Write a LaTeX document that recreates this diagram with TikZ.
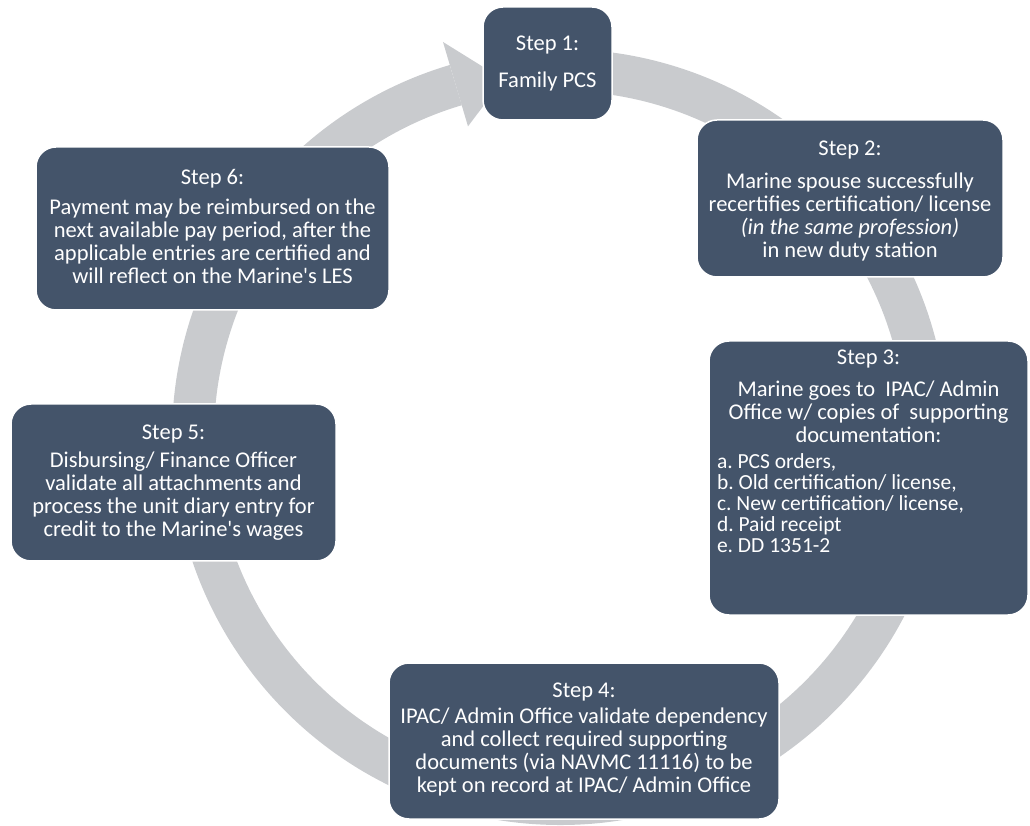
\documentclass[tikz,border=0pt]{standalone}
\usepackage{fontspec}
\setmainfont{Carlito}
\usepackage{tikz}
\definecolor{stepblue}{RGB}{68,84,106}
\definecolor{ringgrey}{RGB}{201,203,206}
\frenchspacing

\begin{document}
\begin{tikzpicture}[
            x = 1pt, % one unit per pixel
            y = 1pt,
            semithick % line style
        ]

        \tikzstyle{stepbox}=[
            rectangle,
            rounded corners = 20pt,
            draw = white,
            line width = 1.5pt,
            fill = stepblue,
            text = white,
            inner sep = 0pt,
            align = center,
            font = \fontsize{22.5}{23}\selectfont
        ]

        \tikzstyle{ring}=[
            draw = ringgrey,
            line width = 42pt
        ]

        \useasboundingbox (0,0) rectangle (1030,825);

	% cycle arrow
        \coordinate (C) at (560,388);
        \draw[ring] ([shift={(86:367pt)}]C) arc[start angle=86, end angle=-253.5, radius=367pt];
        \fill[ringgrey] ([shift={(106.5:412pt)}]C) -- ([shift={(99:362pt)}]C) -- ([shift={(106.5:324pt)}]C) -- cycle;

	% steps
        \node[stepbox, minimum width=129pt, minimum height=113pt] (S1) at (547.5,761.5)
            {Step 1:\\[14pt] Family PCS};

        \node[stepbox, minimum width=306pt, minimum height=157pt] (S2) at (850,626.5)
            {\\[-4pt] Step 2:\\[10pt] Marine spouse successfully\\ recertifies certification/ license\\
             \textit{(in the same profession)}\\ in new duty station};

        \node[stepbox, minimum width=319pt, minimum height=274pt] (S3) at (868.5,347)
            {Step 3:\\[9pt] Marine goes to\ \ IPAC/ Admin\\ Office w/ copies of\ \ supporting\\ documentation:\\[3pt]
             \makebox[303pt][l]{\fontsize{21.5}{21}\selectfont\begin{tabular}[t]{@{}l@{}}
                a. PCS orders,\\ b. Old certification/ license,\\ c. New certification/ license,\\
                d. Paid receipt\\ e. DD 1351-2\end{tabular}}\\[46pt]};

        \node[stepbox, minimum width=390pt, minimum height=156pt] (S4) at (584,84)
            {Step 4:\\[3pt] IPAC/ Admin Office validate dependency\\ and collect required supporting\\
             documents (via NAVMC 11116) to be\\ kept on record at IPAC/ Admin Office\\[-17pt]};

        \node[stepbox, minimum width=325pt, minimum height=157pt] (S5) at (173.5,342.5)
            {Step 5:\\[5pt] Disbursing/ Finance Officer\\ validate all attachments and\\
             process the unit diary entry for\\ credit to the Marine\textquotesingle s wages};

        \node[stepbox, minimum width=353pt, minimum height=163pt] (S6) at (212.5,596.5)
            {Step 6:\\[7pt] Payment may be reimbursed on the\\ next available pay period, after the\\
             applicable entries are certified and\\ will reflect on the Marine\textquotesingle s LES\\[-18pt]};

\end{tikzpicture}
\end{document}
